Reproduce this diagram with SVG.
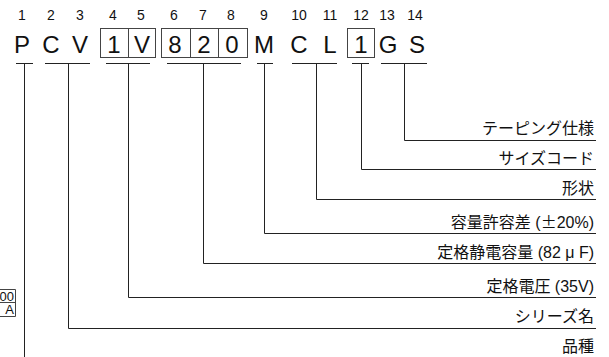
<svg xmlns="http://www.w3.org/2000/svg" width="609" height="357" viewBox="0 0 609 357">
<style>
.num{font-family:"Liberation Sans",Arial,sans-serif;font-size:14px;fill:#111;text-anchor:middle}
.ch{font-family:"Liberation Sans",Arial,sans-serif;font-size:24px;fill:#111;text-anchor:middle}
.lbl{font-family:"Liberation Sans","Noto Sans CJK JP",sans-serif;font-size:16px;fill:#111;text-anchor:end}
.cjk{font-family:"Noto Sans CJK JP",sans-serif}
.box{fill:none;stroke:#444;stroke-width:1}
.ln{fill:none;stroke:#222;stroke-width:1}
.sm{font-family:"Liberation Sans",Arial,sans-serif;font-size:13px;fill:#111;text-anchor:end}
</style>
<rect width="609" height="357" fill="#fff"/>
<g id="code">
<text class="num" x="22" y="20">1</text>
<text class="num" x="51" y="20">2</text>
<text class="num" x="80" y="20">3</text>
<text class="num" x="113" y="20">4</text>
<text class="num" x="141" y="20">5</text>
<text class="num" x="174" y="20">6</text>
<text class="num" x="203" y="20">7</text>
<text class="num" x="231" y="20">8</text>
<text class="num" x="264" y="20">9</text>
<text class="num" x="299" y="20">10</text>
<text class="num" x="330" y="20">11</text>
<text class="num" x="361" y="20">12</text>
<text class="num" x="387" y="20">13</text>
<text class="num" x="415" y="20">14</text>
<rect class="box" x="100.5" y="28.5" width="55" height="29"/>
<line class="box" x1="128.5" y1="28.5" x2="128.5" y2="57.5"/>
<rect class="box" x="161.5" y="28.5" width="86" height="29"/>
<line class="box" x1="190.5" y1="28.5" x2="190.5" y2="57.5"/>
<line class="box" x1="218.5" y1="28.5" x2="218.5" y2="57.5"/>
<rect class="box" x="347.5" y="28.5" width="27" height="29"/>
<text class="ch" x="22" y="53">P</text>
<text class="ch" x="51" y="53">C</text>
<text class="ch" x="80" y="53">V</text>
<text class="ch" x="114" y="53">1</text>
<text class="ch" x="142" y="53">V</text>
<text class="ch" x="175" y="53">8</text>
<text class="ch" x="204" y="53">2</text>
<text class="ch" x="232" y="53">0</text>
<text class="ch" x="264" y="53">M</text>
<text class="ch" x="299" y="53">C</text>
<text class="ch" x="330" y="53">L</text>
<text class="ch" x="361" y="53">1</text>
<text class="ch" x="388" y="53">G</text>
<text class="ch" x="417" y="53">S</text>
</g>
<g id="connectors">
<path class="ln" d="M16 63.5H33M24.5 63.5V357"/>
<path class="ln" d="M45 63.5H90M68.5 63.5V328.5H596"/>
<path class="ln" d="M106 63.5H150M128.5 63.5V297.5H596"/>
<path class="ln" d="M167 63.5H241M203.5 63.5V263.5H596"/>
<path class="ln" d="M257 63.5H273M264.5 63.5V233.5H596"/>
<path class="ln" d="M292 63.5H337M316.5 63.5V199.5H596"/>
<path class="ln" d="M352 63.5H369M361.5 63.5V169.5H596"/>
<path class="ln" d="M381 63.5H427M404.5 63.5V140.5H596"/>
</g>
<g id="labels">
<text class="lbl" x="594" y="134">テーピング仕様</text>
<text class="lbl" x="594" y="164">サイズコード</text>
<text class="lbl" x="594" y="194">形状</text>
<text class="lbl" x="594" y="228">容量許容差 (<tspan class="cjk">±</tspan>20%)</text>
<text class="lbl" x="594" y="258">定格静電容量 (82 μ F)</text>
<text class="lbl" x="594" y="292">定格電圧 (35V)</text>
<text class="lbl" x="594" y="322">シリーズ名</text>
<text class="lbl" x="594" y="352">品種</text>
</g>
<g id="side-table">
<path class="box" d="M-1 289.5H15.5V316.5H-1M-1 302.5H15.5"/>
<text class="sm" x="14" y="300.5">00</text>
<text class="sm" x="14" y="314">A</text>
</g>
</svg>
